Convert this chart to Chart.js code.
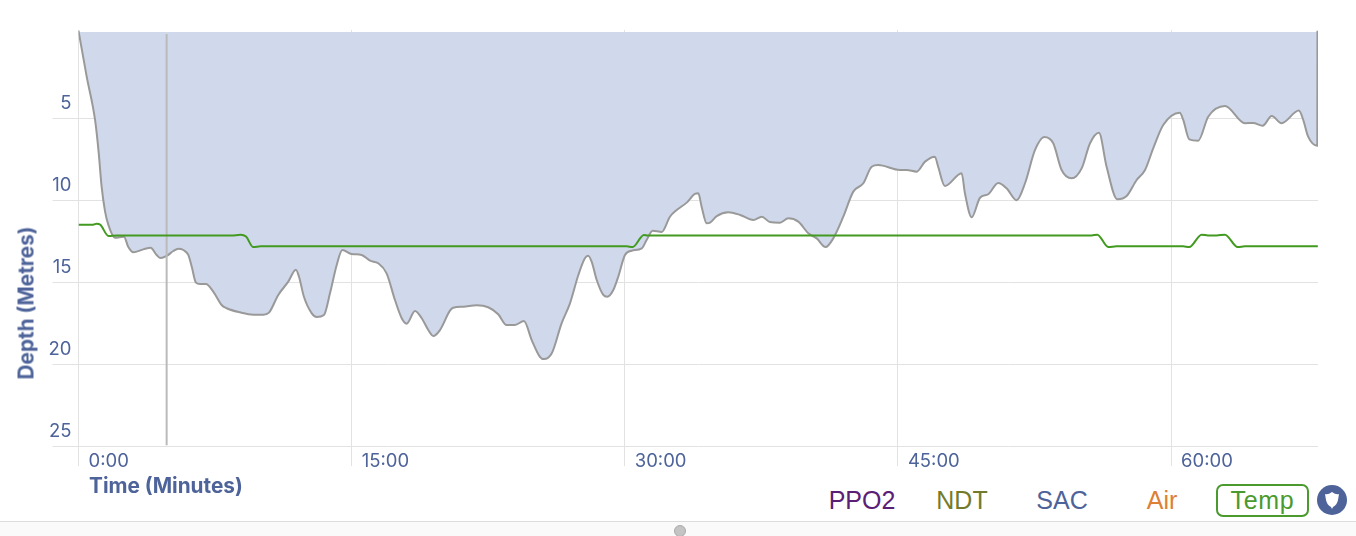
<!DOCTYPE html>
<html>
<head>
<meta charset="utf-8">
<script src="https://cdn.jsdelivr.net/npm/chart.js@4"></script>
<style>
  html, body { margin: 0; background: #fff; overflow: hidden; }
  body { width: 1356px; height: 536px; position: relative; font-family: "Liberation Sans", sans-serif; }
  canvas { position: absolute; left: 0; top: 0; }
  .axis-title { position: absolute; font: bold 20.8px Inter, sans-serif; color: #4d6399; white-space: nowrap; }
  #xTitle { left: 89px; top: 473px; }
  #yTitle { left: 26px; top: 303px; transform: translate(-50%, -50%) rotate(-90deg); }
  .toggle { position: absolute; top: 484px; height: 33px; line-height: 33px; font-size: 25px; text-align: center; box-sizing: border-box; }
  #temp { border: 2px solid #4a9a2e; border-radius: 7px; line-height: 29px; letter-spacing: 0.7px; }
  #profileBtn { position: absolute; left: 1317px; top: 485px; width: 30px; height: 30px; }
  #footer { position: absolute; left: 0; top: 521px; width: 1356px; height: 15px; background: #fafafa; border-top: 1px solid #dcdcdc; box-sizing: border-box; }
  #handle { position: absolute; left: 674px; top: 525px; width: 12px; height: 12px; border-radius: 50%; background: #c4c4c4; border: 1px solid #aaa; box-sizing: border-box; }
</style>
</head>
<body>
<canvas id="diveChart" width="1356" height="480"></canvas>
<div class="axis-title" id="xTitle">Time (Minutes)</div>
<div class="axis-title" id="yTitle">Depth (Metres)</div>
<div class="toggle" style="left:822px;width:80px;color:#5b2076">PPO2</div>
<div class="toggle" style="left:922px;width:80px;color:#737a2c">NDT</div>
<div class="toggle" style="left:1022px;width:80px;color:#4d6399">SAC</div>
<div class="toggle" style="left:1122px;width:80px;color:#dd8033">Air</div>
<div class="toggle" id="temp" style="left:1216px;width:93px;color:#4a9a2e">Temp</div>
<svg id="profileBtn" viewBox="0 0 30 30">
  <circle cx="15" cy="15" r="15" fill="#4d6399"/>
  <path d="M8 9 Q11 10 15 7 Q19 10 22 9 L21 15 Q20 20 16 22 L15 24 L14 22 Q10 20 9 15 Z" fill="#fff"/>
</svg>
<div id="footer"></div>
<div id="handle"></div>
<script>
const depthTimes = [0, 0.45, 0.91, 1.11, 1.27, 1.46, 1.64, 2.00, 2.50, 2.73, 3.01, 3.56, 3.96, 4.29, 4.51, 4.84, 5.21, 5.48, 5.76, 6.03, 6.22, 6.45, 6.67, 7.00, 7.40, 7.86, 8.14, 8.87, 9.60, 10.15, 10.46, 10.97, 11.52, 11.94, 12.11, 12.38, 12.81, 13.08, 13.48, 13.81, 14.18, 14.49, 15.00, 15.55, 16.01, 16.46, 16.92, 17.38, 17.75, 18.02, 18.48, 18.85, 19.21, 19.48, 19.85, 20.40, 20.58, 21.13, 21.87, 22.50, 23.05, 23.51, 23.97, 24.46, 24.89, 25.34, 25.56, 25.99, 26.53, 26.99, 27.45, 27.81, 27.99, 28.18, 28.46, 28.82, 29.04, 29.37, 29.64, 30.01, 30.38, 30.93, 31.20, 31.53, 32.03, 32.48, 32.85, 33.40, 33.85, 34.04, 34.22, 34.50, 34.68, 35.05, 35.68, 36.33, 37.06, 37.52, 37.97, 38.52, 38.98, 39.53, 40.08, 40.54, 41.03, 41.45, 42.00, 42.55, 43.10, 43.56, 43.92, 45.11, 45.48, 46.03, 46.49, 47.03, 47.21, 47.58, 48.50, 48.68, 49.05, 49.51, 49.96, 50.51, 50.97, 51.52, 51.98, 52.53, 53.04, 53.53, 53.99, 54.54, 55.09, 55.55, 56.04, 56.46, 57.05, 57.56, 58.11, 58.57, 59.02, 59.57, 60.48, 60.67, 61.00, 61.49, 62.04, 62.96, 64.06, 64.51, 65.03, 65.53, 66.07, 67.02, 67.26, 67.53, 68.03, 68.04];
const depths = [-0.32, 2.48, 5.12, 7.13, 9.19, 10.71, 11.52, 12.30, 12.24, 12.85, 13.19, 13.01, 12.91, 13.35, 13.54, 13.41, 13.11, 12.97, 13.05, 13.35, 14.07, 15.04, 15.12, 15.12, 15.59, 16.40, 16.60, 16.85, 16.99, 16.99, 16.87, 15.79, 14.98, 14.25, 14.68, 15.90, 16.91, 17.13, 17.01, 15.69, 13.96, 13.05, 13.29, 13.35, 13.70, 13.86, 14.47, 16.10, 17.21, 17.54, 16.77, 17.21, 17.93, 18.29, 17.93, 16.75, 16.57, 16.51, 16.42, 16.54, 16.97, 17.62, 17.62, 17.38, 18.54, 19.56, 19.70, 19.35, 17.52, 16.30, 14.57, 13.55, 13.40, 13.76, 14.88, 15.79, 15.90, 15.49, 14.68, 13.35, 13.09, 12.95, 12.44, 11.87, 11.95, 11.02, 10.61, 10.16, 9.63, 9.59, 10.41, 11.42, 11.38, 10.98, 10.75, 10.91, 11.22, 11.02, 11.34, 11.38, 11.12, 11.32, 12.03, 12.34, 12.87, 12.34, 11.02, 9.49, 8.98, 7.97, 7.87, 8.17, 8.17, 8.27, 7.66, 7.36, 7.97, 9.15, 8.37, 9.59, 11.05, 9.86, 9.65, 8.96, 9.29, 10.02, 8.98, 6.95, 6.16, 6.54, 8.17, 8.68, 8.07, 6.54, 5.90, 7.97, 9.96, 9.76, 8.78, 8.17, 6.85, 5.43, 4.68, 5.12, 6.30, 6.38, 4.92, 4.27, 5.32, 5.30, 5.47, 4.88, 5.32, 4.55, 5.12, 6.14, 6.69, -0.32];
const tempTimes = [0, 0.8, 1.0, 1.2, 1.65, 2.1, 8.4, 8.9, 9.2, 9.6, 10.0, 30.1, 30.43, 31.05, 31.27, 55.64, 55.95, 56.55, 57.01, 60.66, 61.0, 61.68, 62.03, 62.5, 62.96, 63.66, 64.06, 68.06];
const temps = [23, 23, 23.1, 23, 21.95, 22, 22, 22.07, 21.9, 20.93, 21, 21, 20.93, 22.05, 22, 22, 22.08, 20.93, 21, 21, 20.93, 22.08, 22, 22, 22.08, 20.93, 21, 21];
const cursorTimes = [4.84, 4.84];
const cursorDepths = [-0.12, 24.95];
const depthTicks = [5, 10, 15, 20, 25];
const timeTicks = [0, 15, 30, 45, 60];

function toPoints(xs, ys) {
    return xs.map((x, i) => ({ x: x, y: ys[i] }));
}

const tickColor = '#4d6399';
const gridColor = '#e2e2e2';
const tickFont = { family: 'Inter', size: 18.5 };

new Chart(document.getElementById('diveChart').getContext('2d'), {
    type: 'line',
    data: {
        datasets: [
            {
                label: 'Temp',
                data: toPoints(tempTimes, temps),
                yAxisID: 'yTemp',
                borderColor: '#429a20',
                borderWidth: 2,
                pointRadius: 0,
                cubicInterpolationMode: 'monotone',
                order: 0
            },
            {
                label: 'Cursor',
                data: toPoints(cursorTimes, cursorDepths),
                yAxisID: 'y',
                borderColor: '#bababa',
                borderWidth: 2,
                pointRadius: 0,
                order: 1
            },
            {
                label: 'Depth',
                data: toPoints(depthTimes, depths),
                yAxisID: 'y',
                borderColor: '#999999',
                borderWidth: 2,
                backgroundColor: '#d0d9eb',
                fill: { value: -0.24 },
                pointRadius: 0,
                cubicInterpolationMode: 'monotone',
                order: 2
            }
        ]
    },
    options: {
        responsive: false,
        animation: false,
        layout: { padding: { top: 30, right: 38, left: 0, bottom: 0 } },
        plugins: { legend: { display: false }, tooltip: { enabled: false } },
        scales: {
            x: {
                type: 'linear',
                min: 0,
                max: 68.07,
                afterBuildTicks: scale => { scale.ticks = timeTicks.map(v => ({ value: v })); },
                afterFit: scale => { scale.height = 34; },
                border: { display: false },
                grid: { color: gridColor, tickLength: 20, tickColor: gridColor },
                ticks: {
                    color: tickColor,
                    font: tickFont,
                    align: 'start',
                    labelOffset: 10,
                    padding: -16,
                    maxRotation: 0,
                    callback: v => v + ':00'
                }
            },
            y: {
                reverse: true,
                min: -0.366,
                max: 25,
                afterBuildTicks: scale => { scale.ticks = depthTicks.map(v => ({ value: v })); },
                afterFit: scale => { scale.width = 78.5; },
                border: { display: false },
                grid: { color: gridColor, tickLength: 26, tickColor: gridColor },
                ticks: {
                    color: tickColor,
                    font: tickFont,
                    labelOffset: -15,
                    padding: -19
                }
            },
            yTemp: {
                display: false,
                min: 2.51,
                max: 41.03
            }
        }
    }
});
</script>
</body>
</html>
